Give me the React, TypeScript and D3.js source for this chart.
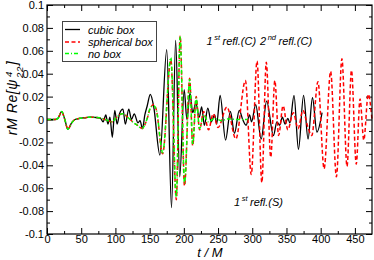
import React, { useEffect, useRef } from "react";
import * as d3 from "d3";

// [t/M, rM Re(psi4_22)], extrema mostly
const cubicBox: [number, number][] = [
  [0, 0], [12, 0], [16, 0.001], [21.5, 0.0068], [26, 0], [30.5, -0.0085], [36, -0.003],
  [41, 0], [48, 0.001], [55, 0.0015], [62, 0.002], [70, 0.0018], [78, 0.0012],
  [82, -0.002], [86, 0.004], [89, -0.004], [92, 0.002], [95.5, -0.0155], [99, 0.008],
  [102.5, -0.004], [106, 0.005], [111, 0.009], [114.5, -0.004], [119.5, 0.009],
  [123.5, 0], [127.5, 0.005], [133, -0.003], [136, -0.001], [139.5, -0.008], [143, 0.004],
  [146.5, 0.012], [151, 0.022], [156, 0.011], [165, -0.031], [175, 0.061], [182, -0.077],
  [188, 0.069], [194, -0.05], [200.5, 0.026], [204.5, 0], [209, 0.023], [213, 0.006],
  [217.5, 0.014], [222.5, 0.002], [226, 0.011], [230, -0.005], [235, 0.01], [240, -0.002],
  [245, 0.004], [248, -0.004], [253, 0.021], [261, -0.018], [268, 0.007], [274, -0.012],
  [281, 0.008], [286, 0], [291, -0.005], [296, 0.004], [299, -0.002], [305, 0.013],
  [313, -0.017], [321, 0.016], [331, -0.014], [336, -0.002], [340, -0.005], [344, 0.002],
  [348, -0.004], [352, 0.001], [355, -0.003], [361, 0.021], [367.5, -0.026], [375, 0.021],
  [381.5, -0.017], [388, 0.019], [394.5, -0.011], [402, 0.006],
];

const sphericalBox: [number, number][] = [
  [0, 0], [12, 0], [16, 0.001], [21.5, 0.0068], [26, 0], [30.5, -0.0085], [36, -0.003],
  [41, 0], [48, 0.001], [55, 0.0015], [62, 0.002], [70, 0.0018], [78, 0.0015], [85, 0],
  [95, -0.002], [102, 0.002], [110, 0.005], [118, 0.002], [125, -0.002], [132, -0.005],
  [139, -0.0078], [146, 0], [151, 0.01], [156, 0.013], [160, 0.008], [169, -0.03],
  [181, 0.052], [189, -0.07], [194.6, 0.073], [201, -0.058], [208.5, 0.036], [213, -0.023],
  [218, 0.02], [223, -0.009], [229, 0.007], [236, -0.009], [243, 0.005], [250, -0.007],
  [263, 0.011], [276, -0.017], [290, 0.034], [298.5, -0.048], [307, 0.051], [314, -0.055],
  [320.5, 0.05], [327, -0.033], [333, 0.034], [338.5, -0.014], [345, 0.012], [352, -0.009],
  [360, 0.006], [367, -0.008], [374, 0.008], [381, -0.006], [387, -0.014], [396, 0.033],
  [405, -0.043], [414.5, 0.042], [423, -0.05], [431, 0.053], [438.5, -0.041], [445, 0.043],
  [452, -0.039], [457.5, 0.018], [463, -0.018], [469.5, 0.022], [475, 0],
];

const noBox: [number, number][] = [
  [0, 0], [12, 0], [16, 0.001], [21.5, 0.007], [26, 0], [30.5, -0.0085], [36, -0.003],
  [41, 0], [48, 0.001], [55, 0.0015], [62, 0.002], [70, 0.0018], [78, 0.0015], [85, 0],
  [95, -0.002], [102, 0.002], [110, 0.005], [118, 0.002], [125, -0.002], [132, -0.005],
  [139, -0.0078], [146, 0], [151, 0.01], [156, 0.012], [160, 0.008], [169, -0.029],
  [181, 0.054], [189, -0.068], [194.6, 0.072], [201, -0.056], [208.5, 0.035], [213, -0.022],
  [218, 0.019], [223, -0.008], [229, 0.004], [236, -0.002], [245, 0.001], [255, -0.001],
  [265, 0.0005], [278, 0], [293, 0],
];

const xTicks = [0, 50, 100, 150, 200, 250, 300, 350, 400, 450];
const xMinor = [25, 75, 125, 175, 225, 275, 325, 375, 425];
const yTicks = [-0.1, -0.08, -0.06, -0.04, -0.02, 0, 0.02, 0.04, 0.06, 0.08, 0.1];
const yMinor = [-0.09, -0.07, -0.05, -0.03, -0.01, 0.01, 0.03, 0.05, 0.07, 0.09];

const legendItems = [
  { label: "cubic box", color: "#000", dash: null, width: 1.3 },
  { label: "spherical box", color: "#ff0000", dash: "4,2.5", width: 1.5 },
  { label: "no box", color: "#00ff00", dash: "4,2,1,2", width: 1.5 },
];

const W = 374;
const H = 260;
const margin = { top: 5, right: 2, bottom: 26, left: 47 };
const FONT = "'Liberation Sans', Arial, sans-serif";

function WaveChart() {
  const svgRef = useRef<SVGSVGElement>(null);

  useEffect(() => {
    const svg = d3.select(svgRef.current);
    svg.selectAll("*").remove();

    const x = d3.scaleLinear().domain([0, 475]).range([margin.left, W - margin.right]);
    const y = d3.scaleLinear().domain([-0.1, 0.1]).range([H - margin.bottom, margin.top]);
    const fmtY = (d: number) => (d === 0 ? "0" : String(+d.toFixed(2)));

    const styleAxis = (g: any) => {
      g.select(".domain").remove();
      g.selectAll("line").attr("stroke", "#000").attr("stroke-width", 1);
      g.attr("font-family", FONT).attr("font-size", 11);
      g.selectAll("text").attr("fill", "#000");
    };

    // major ticks with labels
    svg.append("g")
      .attr("transform", `translate(0,${y(-0.1)})`)
      .call(d3.axisBottom(x).tickValues(xTicks).tickSize(-6).tickPadding(1.5).tickFormat(d3.format("d")) as any)
      .call(styleAxis);
    svg.append("g")
      .attr("transform", `translate(${x(0)},0)`)
      .call(d3.axisLeft(y).tickValues(yTicks).tickSize(-6).tickPadding(3).tickFormat(fmtY as any) as any)
      .call(styleAxis);
    // mirror ticks
    svg.append("g")
      .attr("transform", `translate(0,${y(0.1)})`)
      .call(d3.axisTop(x).tickValues(xTicks).tickSize(-6).tickFormat(() => "") as any)
      .call(styleAxis);
    svg.append("g")
      .attr("transform", `translate(${x(475)},0)`)
      .call(d3.axisRight(y).tickValues(yTicks).tickSize(-6).tickFormat(() => "") as any)
      .call(styleAxis);
    // minor ticks
    svg.append("g").attr("transform", `translate(0,${y(-0.1)})`)
      .call(d3.axisBottom(x).tickValues(xMinor).tickSize(-3).tickFormat(() => "") as any).call(styleAxis);
    svg.append("g").attr("transform", `translate(0,${y(0.1)})`)
      .call(d3.axisTop(x).tickValues(xMinor).tickSize(-3).tickFormat(() => "") as any).call(styleAxis);
    svg.append("g").attr("transform", `translate(${x(0)},0)`)
      .call(d3.axisLeft(y).tickValues(yMinor).tickSize(-3).tickFormat(() => "") as any).call(styleAxis);
    svg.append("g").attr("transform", `translate(${x(475)},0)`)
      .call(d3.axisRight(y).tickValues(yMinor).tickSize(-3).tickFormat(() => "") as any).call(styleAxis);

    // curves
    const line = d3.line<[number, number]>()
      .x(d => x(d[0]))
      .y(d => y(d[1]))
      .curve(d3.curveMonotoneX);

    const series = [cubicBox, sphericalBox, noBox];
    series.forEach((s, i) => {
      const it = legendItems[i];
      svg.append("path")
        .attr("d", line(s))
        .attr("fill", "none")
        .attr("stroke", it.color)
        .attr("stroke-width", it.width)
        .attr("stroke-dasharray", it.dash);
    });

    // frame
    svg.append("rect")
      .attr("x", x(0)).attr("y", y(0.1))
      .attr("width", x(475) - x(0)).attr("height", y(-0.1) - y(0.1))
      .attr("fill", "none").attr("stroke", "#000").attr("stroke-width", 1.2);

    // legend
    const lg = svg.append("g").attr("font-family", FONT).attr("font-size", 11).attr("font-style", "italic");
    lg.append("rect").attr("x", 62.5).attr("y", 21.5).attr("width", 94).attr("height", 40)
      .attr("fill", "#fff").attr("stroke", "#444").attr("stroke-width", 1);
    const rowY = [29.5, 42, 53.5];
    legendItems.forEach((it, i) => {
      lg.append("line").attr("x1", 65).attr("x2", 80).attr("y1", rowY[i]).attr("y2", rowY[i])
        .attr("stroke", it.color).attr("stroke-width", it.width).attr("stroke-dasharray", it.dash);
      lg.append("text").attr("x", 88).attr("y", rowY[i] + 4).text(it.label);
    });

    // annotations
    const anno = (tx: number, ty: number, a: string, sup: string, rest: string) => {
      const t = svg.append("text").attr("x", tx).attr("y", ty)
        .attr("font-family", FONT).attr("font-size", 11).attr("font-style", "italic");
      t.append("tspan").text(a);
      t.append("tspan").attr("dx", 1.5).attr("dy", -5).attr("font-size", 7.5).text(sup);
      t.append("tspan").attr("dx", 2.5).attr("dy", 5).text(rest);
    };
    anno(206.5, 45, "1", "st", "refl.(C)");
    anno(260, 45, "2", "nd", "refl.(C)");
    anno(234, 206, "1", "st", "refl.(S)");

    // axis titles
    svg.append("text").attr("x", 210).attr("y", 257).attr("text-anchor", "middle")
      .attr("font-family", FONT).attr("font-size", 13).attr("font-style", "italic").text("t / M");

    const yl = svg.append("text").attr("transform", "translate(17,98) rotate(-90)")
      .attr("text-anchor", "middle").attr("font-family", FONT).attr("font-size", 14)
      .attr("font-style", "italic").attr("letter-spacing", 0.6);
    yl.append("tspan").text("rM Re[ψ");
    yl.append("tspan").attr("dx", 2).attr("dy", -5.5).attr("font-size", 9.5).text("4");
    yl.append("tspan").attr("dx", -7).attr("dy", 11).attr("font-size", 9.5).text("22");
    yl.append("tspan").attr("dx", 1).attr("dy", -5.5).text("]");
  }, []);

  return (
    <svg ref={svgRef} width={W} height={H}
      style={{ position: "absolute", left: 0, top: 0, background: "#fff" }} />
  );
}

export default function App() {
  return <WaveChart />;
}
